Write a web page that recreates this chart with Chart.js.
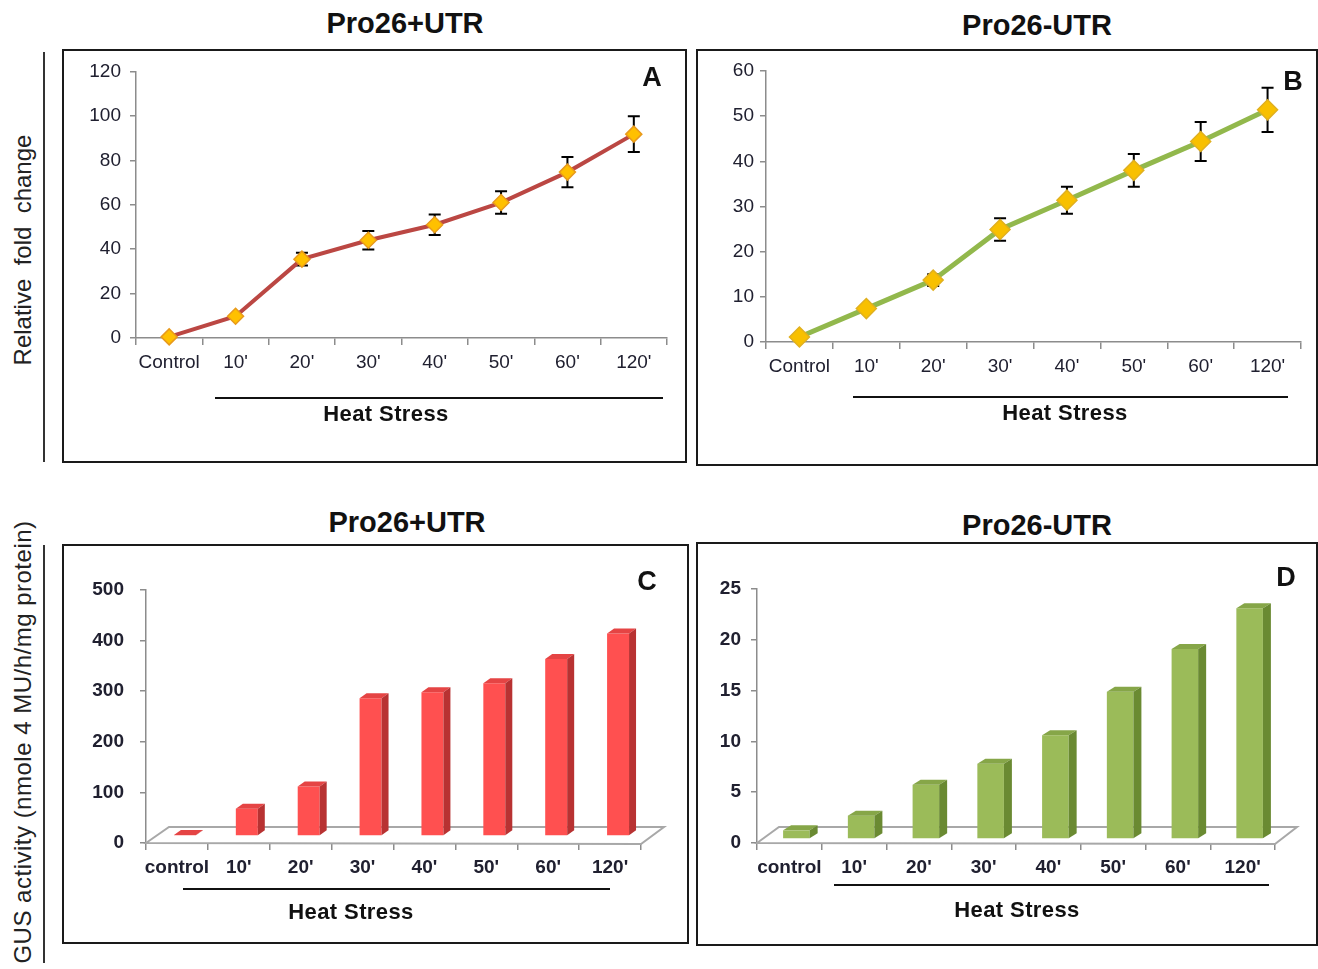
<!DOCTYPE html>
<html lang="en">
<head>
<meta charset="UTF-8">
<title>Pro26 promoter activity under heat stress</title>
<script src="https://cdn.jsdelivr.net/npm/chart.js"></script>
<style>
    body { margin: 0; background: #fff; font-family: 'Liberation Sans', Arial, sans-serif; }
    #page { position: relative; width: 1318px; height: 969px; overflow: hidden; background: #fff; }
    .box { position: absolute; border: 2px solid #1a1a1a; box-sizing: border-box; }
    canvas { position: absolute; }
    .label { position: absolute; transform: translate(-50%, -50%); white-space: pre; color: #111; }
    .title { font-weight: bold; font-size: 29px; }
    .letter { font-weight: bold; font-size: 27px; }
    .heat { font-weight: bold; font-size: 22px; letter-spacing: 0.4px; }
    .side { font-size: 24px; color: #222; transform: translate(-50%, -50%) rotate(-90deg); }
    .rule { position: absolute; background: #111; }
</style>
</head>
<body>
<div id="page">
    <!-- panel frames -->
    <div class="box" style="left:62px;top:49px;width:625px;height:414px"></div>
    <div class="box" style="left:696px;top:49px;width:622px;height:417px"></div>
    <div class="box" style="left:62px;top:544px;width:627px;height:400px"></div>
    <div class="box" style="left:696px;top:542px;width:622px;height:404px"></div>

    <canvas id="chartA"></canvas>
    <canvas id="chartB"></canvas>
    <canvas id="chartC"></canvas>
    <canvas id="chartD"></canvas>

    <!-- titles -->
    <div class="label title" style="left:405px;top:23px">Pro26+UTR</div>
    <div class="label title" style="left:1037px;top:25px">Pro26-UTR</div>
    <div class="label title" style="left:407px;top:522px">Pro26+UTR</div>
    <div class="label title" style="left:1037px;top:525px">Pro26-UTR</div>

    <!-- panel letters -->
    <div class="label letter" style="left:652px;top:77px">A</div>
    <div class="label letter" style="left:1293px;top:81px">B</div>
    <div class="label letter" style="left:647px;top:581px">C</div>
    <div class="label letter" style="left:1286px;top:577px">D</div>

    <!-- heat stress labels -->
    <div class="rule" style="left:215px;top:397px;width:448px;height:2px"></div>
    <div class="label heat" style="left:386px;top:414px">Heat Stress</div>
    <div class="rule" style="left:853px;top:396px;width:435px;height:2px"></div>
    <div class="label heat" style="left:1065px;top:413px">Heat Stress</div>
    <div class="rule" style="left:183px;top:888px;width:427px;height:2px"></div>
    <div class="label heat" style="left:351px;top:912px">Heat Stress</div>
    <div class="rule" style="left:834px;top:884px;width:435px;height:2px"></div>
    <div class="label heat" style="left:1017px;top:910px">Heat Stress</div>

    <!-- shared y titles -->
    <div class="label side" style="left:23px;top:250px">Relative  fold  change</div>
    <div class="rule" style="left:43px;top:52px;width:2px;height:410px;background:#333"></div>
    <div class="label side" style="left:23px;top:742px;letter-spacing:0.5px">GUS activity (nmole 4 MU/h/mg protein)</div>
    <div class="rule" style="left:43px;top:545px;width:2px;height:418px;background:#333"></div>
</div>

<script>
    // categories
    const timeLabels = ['Control', "10'", "20'", "30'", "40'", "50'", "60'", "120'"];
    const timeLabelsBar = ['control', "10'", "20'", "30'", "40'", "50'", "60'", "120'"];

    // A / B: relative fold change (mean and error)
    const foldPlusUTR = [0.5, 9.8, 35.5, 44, 51, 61, 74.7, 91.8];
    const foldPlusUTRErr = [0, 0, 2.9, 4.2, 4.6, 5.1, 6.8, 8.1];
    const foldMinusUTR = [1.1, 7.4, 13.7, 24.9, 31.4, 38, 44.4, 51.4];
    const foldMinusUTRErr = [0, 0, 1.3, 2.5, 3, 3.6, 4.3, 4.9];

    // C / D: GUS activity
    const gusPlusUTR = [2, 54, 98, 272, 284, 302, 350, 400];
    const gusMinusUTR = [0.85, 2.3, 5.35, 7.4, 10.2, 14.5, 18.7, 22.7];

    const ink = '#202030';
    const axisGray = '#8c8c8c';

    // error bars drawn under the markers
    const errorBars = {
        id: 'errorBars',
        beforeDatasetsDraw(chart, args, opts) {
            if (!opts.values) return;
            const ctx = chart.ctx;
            const y = chart.scales.y;
            const vals = chart.data.datasets[0].data;
            ctx.save();
            ctx.strokeStyle = '#000';
            ctx.lineWidth = 2;
            chart.getDatasetMeta(0).data.forEach((pt, i) => {
                const e = opts.values[i];
                if (!e) return;
                const top = y.getPixelForValue(vals[i] + e);
                const bot = y.getPixelForValue(vals[i] - e);
                ctx.beginPath();
                ctx.moveTo(pt.x, top); ctx.lineTo(pt.x, bot);
                ctx.moveTo(pt.x - opts.cap, top); ctx.lineTo(pt.x + opts.cap, top);
                ctx.moveTo(pt.x - opts.cap, bot); ctx.lineTo(pt.x + opts.cap, bot);
                ctx.stroke();
            });
            ctx.restore();
        }
    };

    // fake 3D columns: floor, then shifted front faces, then top + side faces
    const bar3d = {
        id: 'bar3d',
        beforeDatasetsDraw(chart, args, o) {
            const ctx = chart.ctx;
            const a = chart.chartArea;
            const y0 = chart.scales.y.getPixelForValue(0);
            ctx.save();
            ctx.beginPath();
            ctx.moveTo(a.left, y0);
            ctx.lineTo(a.left + o.floorDx, y0 - o.floorDy);
            ctx.lineTo(a.right + o.floorDx, y0 - o.floorDy);
            ctx.lineTo(a.right, y0 + 1);
            ctx.closePath();
            ctx.fillStyle = '#fff';
            ctx.fill();
            ctx.strokeStyle = '#a8a8a8';
            ctx.lineWidth = 2;
            ctx.stroke();
            ctx.restore();
            ctx.save();
            ctx.translate(o.shiftX, o.shiftY);
        },
        afterDatasetsDraw(chart, args, o) {
            const ctx = chart.ctx;
            chart.getDatasetMeta(0).data.forEach(bar => {
                const { x, y, base, width } = bar.getProps(['x', 'y', 'base', 'width'], true);
                const l = x - width / 2, r = x + width / 2;
                ctx.fillStyle = o.top;
                ctx.beginPath();
                ctx.moveTo(l, y); ctx.lineTo(l + o.dx, y - o.dy);
                ctx.lineTo(r + o.dx, y - o.dy); ctx.lineTo(r, y);
                ctx.closePath(); ctx.fill();
                ctx.fillStyle = o.side;
                ctx.beginPath();
                ctx.moveTo(r, y); ctx.lineTo(r + o.dx, y - o.dy);
                ctx.lineTo(r + o.dx, base - o.dy); ctx.lineTo(r, base);
                ctx.closePath(); ctx.fill();
            });
            ctx.restore();
        }
    };

    function setupCanvas(id, rect) {
        const cv = document.getElementById(id);
        cv.width = rect.w; cv.height = rect.h;
        cv.style.left = rect.x + 'px'; cv.style.top = rect.y + 'px';
        cv.style.width = rect.w + 'px'; cv.style.height = rect.h + 'px';
        return cv;
    }

    function makeScales(rect, area, yMax, step, font, yPad, showXBorder) {
        return {
            x: {
                offset: true,
                grid: { offset: true, drawOnChartArea: false, tickLength: 7, color: axisGray, lineWidth: 1.5 },
                border: { display: showXBorder, color: axisGray, width: 1.5 },
                ticks: { color: ink, font: font, padding: 6, autoSkip: false, maxRotation: 0 },
                afterFit: s => { s.height = 40; }
            },
            y: {
                min: 0, max: yMax,
                grid: { drawOnChartArea: false, tickLength: 6, color: axisGray, lineWidth: 1.5 },
                border: { color: axisGray, width: 1.5 },
                ticks: { stepSize: step, color: ink, font: font, padding: yPad },
                afterFit: s => { s.width = area.l - rect.x; }
            }
        };
    }

    function fixedPadding(rect, area) {
        return {
            left: 0,
            top: area.t - rect.y,
            right: rect.x + rect.w - area.r,
            bottom: rect.y + rect.h - area.b - 40
        };
    }

    function lineChart(id, rect, area, values, errors, yMax, step, look) {
        return new Chart(setupCanvas(id, rect), {
            type: 'line',
            data: {
                labels: timeLabels,
                datasets: [{
                    data: values,
                    borderColor: look.line,
                    borderWidth: look.width,
                    tension: 0,
                    pointStyle: 'rectRot',
                    pointRadius: look.r,
                    pointBackgroundColor: look.fill,
                    pointBorderColor: look.edge,
                    pointBorderWidth: 1.5,
                    clip: false
                }]
            },
            options: {
                responsive: false,
                animation: false,
                events: [],
                layout: { padding: fixedPadding(rect, area) },
                plugins: {
                    legend: { display: false },
                    tooltip: { enabled: false },
                    errorBars: { values: errors, cap: 6 }
                },
                scales: makeScales(rect, area, yMax, step, { size: 19 }, look.yPad, true)
            },
            plugins: [errorBars]
        });
    }

    function barChart(id, rect, area, values, yMax, step, look) {
        return new Chart(setupCanvas(id, rect), {
            type: 'bar',
            data: {
                labels: timeLabelsBar,
                datasets: [{
                    data: values,
                    backgroundColor: look.front,
                    borderWidth: 0,
                    barPercentage: look.barPct,
                    categoryPercentage: 1
                }]
            },
            options: {
                responsive: false,
                animation: false,
                events: [],
                layout: { padding: fixedPadding(rect, area) },
                plugins: {
                    legend: { display: false },
                    tooltip: { enabled: false },
                    bar3d: look.depth
                },
                scales: makeScales(rect, area, yMax, step, { size: 19, weight: 'bold' }, look.yPad, false)
            },
            plugins: [bar3d]
        });
    }

    Chart.defaults.font.family = "'Liberation Sans', Arial, sans-serif";

    lineChart('chartA',
        { x: 64, y: 51, w: 621, h: 410 },
        { l: 136, r: 667, t: 71.5, b: 338 },
        foldPlusUTR, foldPlusUTRErr, 120, 20,
        { line: '#bb4743', width: 4, r: 8, fill: '#ffc000', edge: '#e89a1c', yPad: 9 });

    lineChart('chartB',
        { x: 698, y: 51, w: 618, h: 413 },
        { l: 766, r: 1301, t: 71, b: 342 },
        foldMinusUTR, foldMinusUTRErr, 60, 10,
        { line: '#92b84c', width: 5, r: 10, fill: '#f8c000', edge: '#e0b020', yPad: 6 });

    barChart('chartC',
        { x: 64, y: 546, w: 623, h: 396 },
        { l: 146, r: 641, t: 590, b: 843 },
        gusPlusUTR, 500, 100,
        { front: '#ff5050', barPct: 0.355, yPad: 16,
          depth: { shiftX: 8, shiftY: -7, dx: 7, dy: 5, floorDx: 23, floorDy: 16, top: '#e54444', side: '#b83232' } });

    barChart('chartD',
        { x: 698, y: 544, w: 618, h: 400 },
        { l: 757, r: 1275, t: 589, b: 843 },
        gusMinusUTR, 25, 5,
        { front: '#9bbb59', barPct: 0.41, yPad: 10,
          depth: { shiftX: 7, shiftY: -4, dx: 8, dy: 5, floorDx: 22, floorDy: 16, top: '#86a648', side: '#6a8a32' } });
</script>
</body>
</html>
